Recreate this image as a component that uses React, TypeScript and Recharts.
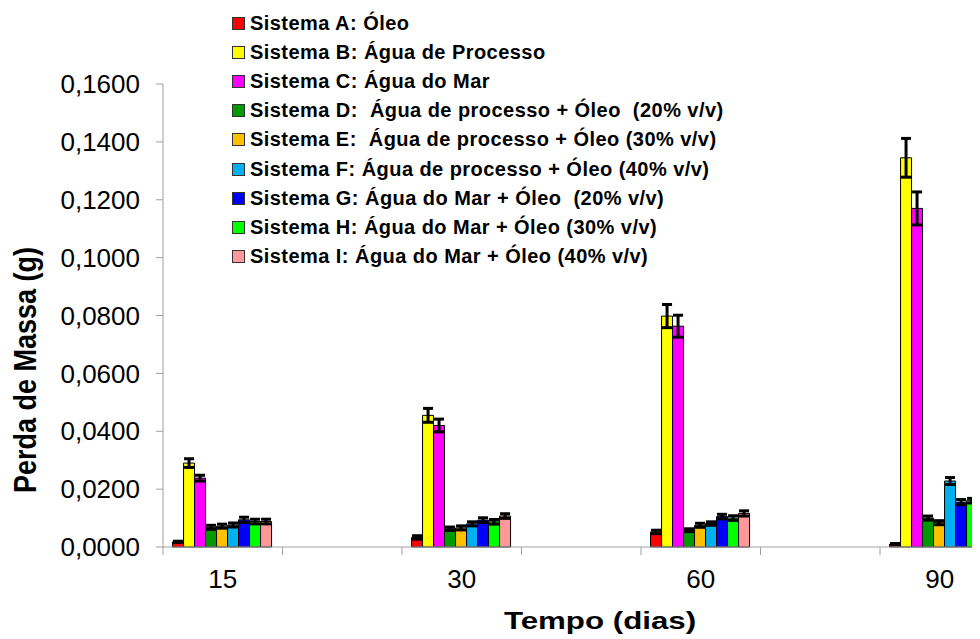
import React from "react";
import { BarChart, Bar, XAxis, YAxis, Legend, ErrorBar } from "recharts";

// Tempo (dias) e eixo Y
const days = ["15", "30", "60", "90"];
const yTicks = [0, 0.02, 0.04, 0.06, 0.08, 0.1, 0.12, 0.14, 0.16];

// Perda de massa (g) por sistema, na ordem de days
const sistemaA = [0.0018, 0.0033, 0.0052, 0.001];
const sistemaB = [0.029, 0.0455, 0.0798, 0.1345];
const sistemaC = [0.0238, 0.042, 0.0763, 0.117];
const sistemaD = [0.0068, 0.0063, 0.0058, 0.01];
const sistemaE = [0.0072, 0.0066, 0.0075, 0.0084];
const sistemaF = [0.0076, 0.008, 0.0081, 0.0228];
const sistemaG = [0.0094, 0.0093, 0.0105, 0.0155];
const sistemaH = [0.0088, 0.0087, 0.01, 0.016];
const sistemaI = [0.0088, 0.0107, 0.0116, 0.0195];

// desvios (barras de erro)
const erroA = [0.0002, 0.0006, 0.0006, 0.0002];
const erroB = [0.0015, 0.0024, 0.004, 0.0067];
const erroC = [0.001, 0.0022, 0.0038, 0.0057];
const erroD = [0.0007, 0.0006, 0.0005, 0.0007];
const erroE = [0.0007, 0.0007, 0.0007, 0.0007];
const erroF = [0.0007, 0.0007, 0.0006, 0.0012];
const erroG = [0.0009, 0.0008, 0.0008, 0.0009];
const erroH = [0.0008, 0.0008, 0.0008, 0.0008];
const erroI = [0.0008, 0.0008, 0.0009, 0.0007];

const seriesNames = [
  "Sistema A: Óleo",
  "Sistema B: Água de Processo",
  "Sistema C: Água do Mar",
  "Sistema D:  Água de processo + Óleo  (20% v/v)",
  "Sistema E:  Água de processo + Óleo (30% v/v)",
  "Sistema F: Água de processo + Óleo (40% v/v)",
  "Sistema G: Água do Mar + Óleo  (20% v/v)",
  "Sistema H: Água do Mar + Óleo (30% v/v)",
  "Sistema I: Água do Mar + Óleo (40% v/v)",
];
const seriesColors = [
  "#FF0000",
  "#FFFF00",
  "#FF00FF",
  "#009A00",
  "#FFC000",
  "#00B0F0",
  "#0000FF",
  "#00FF00",
  "#FF9999",
];

const seriesValues = [sistemaA, sistemaB, sistemaC, sistemaD, sistemaE, sistemaF, sistemaG, sistemaH, sistemaI];
const seriesErrors = [erroA, erroB, erroC, erroD, erroE, erroF, erroG, erroH, erroI];
const keys = ["A", "B", "C", "D", "E", "F", "G", "H", "I"];

// each day is followed by an empty slot, like the original axis
const rows: any[] = [];
days.forEach((d, i) => {
  const row: any = { day: d };
  keys.forEach((k, s) => {
    row[k] = seriesValues[s][i];
    row[k + "Err"] = seriesErrors[s][i];
  });
  rows.push(row);
  rows.push({ day: "vazio" + i });
});

const FONT = "'Liberation Sans', Arial, sans-serif";
const AXIS_GRAY = "#a0a0a0";

const DayTick = (props: any) => {
  const { x, y, payload } = props;
  const half = payload && payload.offset ? payload.offset : 0;
  const show = days.includes(payload.value);
  return (
    <g>
      <line x1={x - half} x2={x - half} y1={y} y2={y + 8} stroke={AXIS_GRAY} />
      {show && (
        <text x={x} y={y + 41} textAnchor="middle" fontSize={26} fontFamily={FONT} fill="#000">
          {payload.value}
        </text>
      )}
    </g>
  );
};

const renderLegend = (props: any) => (
  <div style={{ fontFamily: FONT, fontWeight: "bold", fontSize: 20, letterSpacing: 0.45, color: "#000" }}>
    {(props.payload || []).map((entry: any) => (
      <div key={entry.value} style={{ display: "flex", alignItems: "center", height: 29.1, whiteSpace: "pre" }}>
        <span
          style={{
            display: "inline-block",
            width: 11,
            height: 11,
            background: entry.color,
            border: "1px solid #333",
            marginRight: 5,
            flexShrink: 0,
          }}
        />
        <span>{entry.value}</span>
      </div>
    ))}
  </div>
);

const fmt = (v: number) => v.toFixed(4).replace(".", ",");

export default function App() {
  return (
    <div style={{ width: 972, height: 631, overflow: "hidden", position: "relative" }}>
      <BarChart
        width={1150}
        height={631}
        data={rows}
        margin={{ top: 76, right: 39, bottom: 0, left: 0 }}
        barCategoryGap="8%"
        barGap={0}
      >
        <XAxis
          dataKey="day"
          height={92}
          interval={0}
          tickLine={false}
          tickSize={0}
          tickMargin={0}
          axisLine={{ stroke: AXIS_GRAY }}
          tick={<DayTick />}
          label={{
            content: () => (
              <text
                transform="translate(592,621) scale(1.36,1)"
                textAnchor="middle"
                fontSize={23}
                fontWeight="bold"
                fontFamily={FONT}
                fill="#000"
              >
                Tempo (dias)
              </text>
            ),
          }}
        />
        <YAxis
          width={155}
          domain={[0, 0.16]}
          ticks={yTicks}
          interval={0}
          tickFormatter={fmt}
          tickSize={7}
          tickMargin={16}
          axisLine={{ stroke: AXIS_GRAY }}
          tickLine={{ stroke: AXIS_GRAY }}
          tick={{ fontSize: 26, fontFamily: FONT, fill: "#000" }}
          label={{
            content: () => (
              <text
                transform="translate(17,362) rotate(-90) scale(1,1.17)"
                textAnchor="middle"
                dominantBaseline="central"
                fontSize={27}
                fontWeight="bold"
                fontFamily={FONT}
                fill="#000"
              >
                Perda de Massa (g)
              </text>
            ),
          }}
        />
        <Legend
          layout="vertical"
          align="center"
          verticalAlign="middle"
          content={renderLegend}
          wrapperStyle={{ top: 1, left: 224, width: "auto" }}
        />
        {keys.map((k, s) => (
          <Bar
            key={k}
            dataKey={k}
            name={seriesNames[s]}
            fill={seriesColors[s]}
            stroke="#000"
            strokeWidth={1}
            isAnimationActive={false}
          >
            <ErrorBar dataKey={k + "Err"} width={5} stroke="#000" strokeWidth={3} direction="y" />
          </Bar>
        ))}
      </BarChart>
    </div>
  );
}
